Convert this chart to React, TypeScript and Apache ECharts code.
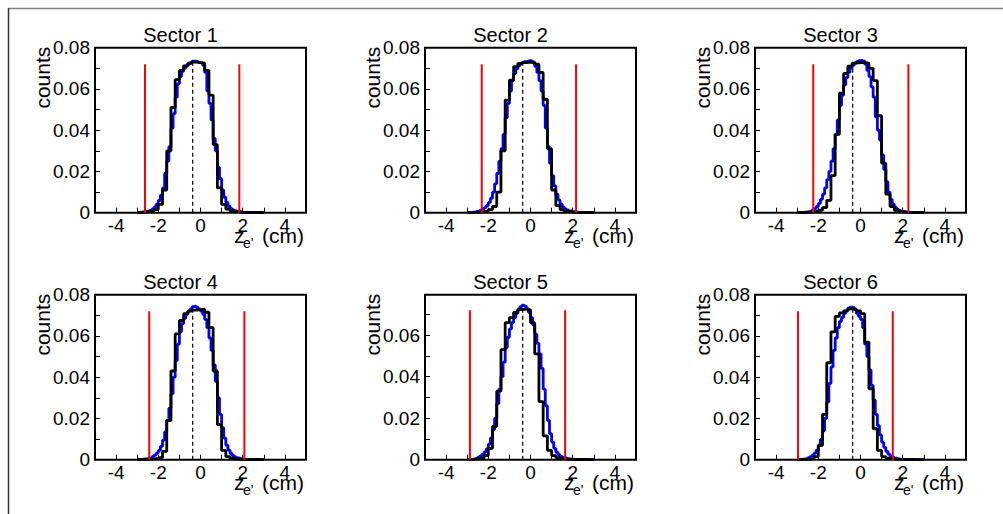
import React, { useEffect, useRef } from "react";
import * as echarts from "echarts";

const SECTORS = ["Sector 1", "Sector 2", "Sector 3", "Sector 4", "Sector 5", "Sector 6"];

// black histogram: 0.2 cm bins starting at -3.0
const BLACK_START = -3.0;
const BLACK_BIN = 0.2;
// blue histogram: 0.1 cm bins starting at -3.0
const BLUE_START = -3.0;
const BLUE_BIN = 0.1;

const black1 = [0.0002,0.0003,0.0005,0.0008,0.0015,0.004,0.011,0.030,0.051,0.0645, 0.069,0.0712,0.0725,0.073,0.0728,0.0725,0.069,0.057,0.033,0.012, 0.004,0.0018,0.0009,0.0005,0.0003,0.0002,0.0001,0.0001,0.0001,0];
const black2 = [0.0001,0.0002,0.0003,0.0005,0.0008,0.0015,0.003,0.010,0.030,0.0546, 0.0643,0.0708,0.0724,0.0728,0.073,0.0728,0.072,0.068,0.055,0.031, 0.011,0.0035,0.0015,0.0007,0.0004,0.0002,0.0001,0.0001,0.0001,0];
const black3 = [0.0001,0.0001,0.0002,0.0004,0.0007,0.0012,0.0025,0.006,0.018,0.038, 0.058,0.0675,0.071,0.0725,0.0728,0.0728,0.0725,0.070,0.064,0.047, 0.024,0.009,0.003,0.0012,0.0006,0.0003,0.0002,0.0001,0.0001,0];
const black4 = [0.0001,0.0002,0.0003,0.0004,0.0006,0.001,0.004,0.019,0.043,0.061, 0.0675,0.0708,0.072,0.0725,0.0728,0.073,0.0715,0.064,0.043,0.017, 0.0045,0.0015,0.0007,0.0003,0.0002,0.0001,0.0001,0.0001,0,0];
const black5 = [0.0002,0.0003,0.0005,0.0008,0.002,0.0055,0.016,0.033,0.053,0.066, 0.0685,0.071,0.0723,0.0725,0.0722,0.066,0.051,0.028,0.0115,0.0045, 0.002,0.001,0.0005,0.0003,0.0002,0.0001,0.0001,0.0001,0,0];
const black6 = [0.0001,0.0002,0.0003,0.0005,0.0015,0.007,0.022,0.047,0.062,0.0695, 0.0712,0.0722,0.0732,0.073,0.0722,0.0708,0.057,0.0344,0.015,0.0045, 0.0015,0.0007,0.0004,0.0002,0.0001,0.0001,0.0001,0,0,0];

const blue1 = [
  0.0002,0.0003,0.0004,0.0005,0.0007,0.001,0.0013,0.0018,0.0028,0.0042,
  0.006,0.0085,0.012,0.019,0.025,0.032,0.041,0.048,0.056,0.0625,
  0.066,0.0685,0.070,0.0712,0.072,0.0728,0.0735,0.0735,0.0732,0.0728,
  0.0725,0.0715,0.068,0.059,0.053,0.045,0.036,0.030,0.022,0.0165,
  0.011,0.0075,0.005,0.0032,0.002,0.0013,0.0009,0.0006,0.0004,0.0003,
  0.0002,0.0002,0.0001,0.0001,0.0001,0.0001,0.0001,0,0,0,
];
const blue2 = [
  0.0001,0.0002,0.0003,0.0004,0.0006,0.0008,0.0012,0.0018,0.0025,0.0035,
  0.005,0.007,0.010,0.014,0.019,0.025,0.031,0.038,0.046,0.053,
  0.059,0.064,0.0675,0.0698,0.0712,0.0722,0.0728,0.0732,0.0735,0.0738,
  0.0735,0.073,0.071,0.068,0.064,0.059,0.052,0.041,0.032,0.024,
  0.018,0.013,0.009,0.0062,0.0042,0.0028,0.0019,0.0013,0.0009,0.0006,
  0.0004,0.0003,0.0002,0.0002,0.0001,0.0001,0.0001,0.0001,0,0,
];
const blue3 = [
  0.0001,0.0001,0.0002,0.0003,0.0004,0.0006,0.0009,0.0013,0.002,0.003,
  0.0045,0.0065,0.009,0.012,0.016,0.020,0.025,0.031,0.038,0.045,
  0.052,0.057,0.062,0.0655,0.068,0.070,0.0715,0.0725,0.0732,0.0737,
  0.074,0.0735,0.072,0.069,0.066,0.061,0.056,0.0465,0.040,0.0352,
  0.028,0.021,0.015,0.010,0.0065,0.0042,0.0027,0.0017,0.0011,0.0007,
  0.0005,0.0003,0.0002,0.0002,0.0001,0.0001,0.0001,0.0001,0.0001,0,
];
const blue4 = [
  0.0001,0.0002,0.0003,0.0004,0.0005,0.0007,0.001,0.0015,0.0022,0.0032,
  0.0045,0.0065,0.0095,0.0135,0.019,0.025,0.032,0.040,0.048,0.056,
  0.062,0.066,0.0685,0.0705,0.072,0.073,0.0742,0.0745,0.0738,0.073,
  0.072,0.0705,0.068,0.064,0.059,0.053,0.046,0.038,0.030,0.022,
  0.0155,0.0105,0.007,0.0046,0.003,0.002,0.0013,0.0009,0.0006,0.0004,
  0.0003,0.0002,0.0002,0.0001,0.0001,0.0001,0.0001,0,0,0,
];
const blue5 = [
  0.0002,0.0002,0.0003,0.0005,0.0008,0.0012,0.0018,0.0026,0.0037,0.0052,
  0.0075,0.0105,0.0145,0.020,0.027,0.034,0.040,0.047,0.054,0.059,
  0.063,0.066,0.0685,0.0705,0.0725,0.0738,0.0745,0.074,0.0728,0.071,
  0.0685,0.065,0.0605,0.056,0.051,0.044,0.034,0.026,0.019,0.0125,
  0.0085,0.0055,0.0036,0.0024,0.0016,0.0011,0.0008,0.0005,0.0004,0.0003,
  0.0002,0.0002,0.0001,0.0001,0.0001,0.0001,0.0001,0,0,0,
];
const blue6 = [
  0.0001,0.0002,0.0003,0.0004,0.0006,0.001,0.0015,0.0022,0.0032,0.0046,
  0.0068,0.0098,0.014,0.020,0.028,0.037,0.045,0.053,0.059,0.064,
  0.067,0.069,0.071,0.0722,0.0735,0.074,0.0738,0.0728,0.071,0.0695,
  0.068,0.064,0.056,0.050,0.0435,0.036,0.029,0.022,0.0165,0.012,
  0.0085,0.006,0.004,0.0027,0.0018,0.0012,0.0008,0.0005,0.0003,0.0002,
  0.0002,0.0001,0.0001,0.0001,0.0001,0,0,0,0,0,
];

const BLACK = [black1, black2, black3, black4, black5, black6];
const BLUE = [blue1, blue2, blue3, blue4, blue5, blue6];

const CUT_LOW = [-2.63, -2.31, -2.24, -2.43, -2.87, -2.96];
const CUT_HIGH = [1.84, 2.16, 2.27, 2.08, 1.64, 1.53];
const CUT_TOP = 0.072;
const MEAN_Z = [-0.37, -0.37, -0.37, -0.37, -0.37, -0.37];
const MEAN_TOP = 0.073;
const Y_MAX = [0.08, 0.08, 0.08, 0.08, 0.0795, 0.08];
const X_MIN = -5;
const X_MAX = 5;

const FONT = "'Liberation Sans', Arial, Helvetica, sans-serif";

function histPoints(start: number, width: number, vals: number[]) {
  const pts: number[][] = [[start, 0]];
  vals.forEach((v, i) => pts.push([start + i * width, v]));
  const end = start + vals.length * width;
  pts.push([end, vals[vals.length - 1]]);
  pts.push([end, 0]);
  return pts;
}

export default function App() {
  const ref = useRef<HTMLDivElement>(null);
  useEffect(() => {
    if (!ref.current) return;
    const chart = echarts.init(ref.current, undefined, { renderer: "svg" });
    const L0 = 95, T0 = 47.7, CS = 330, RS = 247, PW = 211, PH = 165;
    const grids: any[] = [], xAxes: any[] = [], yAxes: any[] = [], series: any[] = [], graphics: any[] = [];
    for (let p = 0; p < 6; p++) {
      const c = p % 3, r = Math.floor(p / 3);
      const gx = L0 + CS * c, gy = T0 + RS * r;
      grids.push({ left: gx, top: gy, width: PW, height: PH, show: true, borderColor: "#000", borderWidth: 2, backgroundColor: "transparent" });
      xAxes.push({
        type: "value", gridIndex: p, min: X_MIN, max: X_MAX, interval: 1, position: "bottom",
        axisLine: { show: false, onZero: false }, splitLine: { show: false },
        axisTick: { show: true, inside: true, length: 5, lineStyle: { color: "#000", width: 1 } },
        axisLabel: {
          margin: 3, fontSize: 19, color: "#000", fontFamily: FONT,
          formatter: (v: number) => (Math.abs(v) < 5 && Math.round(v) % 2 === 0 ? String(Math.round(v)) : ""),
        },
      });
      yAxes.push({
        type: "value", gridIndex: p, min: 0, max: Y_MAX[p], interval: 0.01, position: "left",
        axisLine: { show: false, onZero: false }, splitLine: { show: false },
        axisTick: { show: true, inside: true, length: 5, lineStyle: { color: "#000", width: 1 } },
        axisLabel: {
          margin: 5, fontSize: 19, color: "#000", fontFamily: FONT,
          formatter: (v: number) => {
            const k = Math.round(v * 100);
            if (Math.abs(v * 100 - k) > 1e-6 || k % 2 !== 0) return "";
            return k === 0 ? "0" : v.toFixed(2);
          },
        },
      });
      series.push({
        type: "line", xAxisIndex: p, yAxisIndex: p, step: "end", symbol: "none", silent: true, z: 2,
        lineStyle: { color: "#0000ff", width: 2.8 }, data: histPoints(BLUE_START, BLUE_BIN, BLUE[p]),
      });
      series.push({
        type: "line", xAxisIndex: p, yAxisIndex: p, step: "end", symbol: "none", silent: true, z: 3,
        lineStyle: { color: "#000", width: 2.8 }, data: histPoints(BLACK_START, BLACK_BIN, BLACK[p]),
      });
      [CUT_LOW[p], CUT_HIGH[p]].forEach((cx) => {
        series.push({
          type: "line", xAxisIndex: p, yAxisIndex: p, symbol: "none", silent: true, z: 4,
          lineStyle: { color: "#ff0000", width: 2 }, data: [[cx, 0], [cx, CUT_TOP]],
        });
      });
      series.push({
        type: "line", xAxisIndex: p, yAxisIndex: p, symbol: "none", silent: true, z: 4,
        lineStyle: { color: "#000", width: 1.2, type: [4, 3] }, data: [[MEAN_Z[p], 0], [MEAN_Z[p], MEAN_TOP]],
      });
      graphics.push({
        type: "text", x: gx + 85.5, y: gy - 12.7,
        style: { text: SECTORS[p], fontSize: 20, fontFamily: FONT, fill: "#000", textAlign: "center", textVerticalAlign: "middle" },
      });
      graphics.push({
        type: "text", x: gx - 52.3, y: gy - 1, rotation: Math.PI / 2,
        style: { text: "counts", fontSize: 21, fontFamily: FONT, fill: "#000", textAlign: "right", textVerticalAlign: "middle" },
      });
      graphics.push({
        type: "text", x: gx + 139, y: gy + 188,
        style: { text: "z", fontSize: 21, fontFamily: FONT, fill: "#000", textAlign: "left", textVerticalAlign: "middle" },
      });
      graphics.push({
        type: "text", x: gx + 148, y: gy + 195.3,
        style: { text: "e'", fontSize: 14, fontFamily: FONT, fill: "#000", textAlign: "left", textVerticalAlign: "middle" },
      });
      graphics.push({
        type: "text", x: gx + 167, y: gy + 188,
        style: { text: "(cm)", fontSize: 21, fontFamily: FONT, fill: "#000", textAlign: "left", textVerticalAlign: "middle" },
      });
    }
    graphics.push({ type: "line", shape: { x1: 8, y1: 8.5, x2: 1003, y2: 8.5 }, style: { stroke: "#808080", lineWidth: 1.5 } });
    graphics.push({ type: "line", shape: { x1: 8.5, y1: 8, x2: 8.5, y2: 514 }, style: { stroke: "#333", lineWidth: 1.5 } });

    chart.setOption({
      animation: false,
      backgroundColor: "#fff",
      grid: grids,
      xAxis: xAxes,
      yAxis: yAxes,
      series,
      graphic: graphics,
    });
    return () => chart.dispose();
  }, []);
  return <div ref={ref} style={{ position: "absolute", left: 0, top: 0, width: 1003, height: 514, background: "#fff" }} />;
}
